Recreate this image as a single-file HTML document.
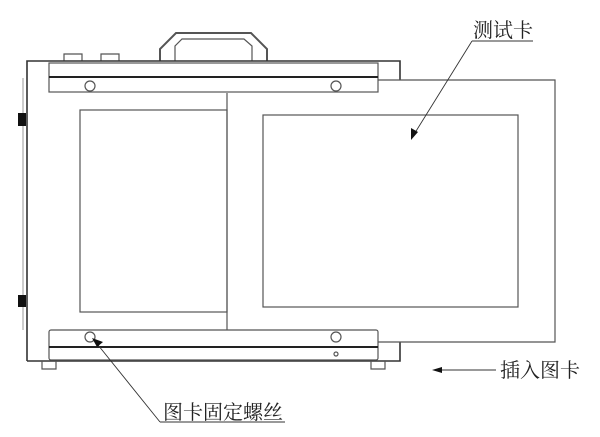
<!DOCTYPE html>
<html><head><style>body{margin:0;background:#fff}svg{display:block}</style></head><body>
<svg width="600" height="437" viewBox="0 0 600 437" xmlns="http://www.w3.org/2000/svg" font-family="'Liberation Serif','Noto Serif CJK SC',serif">
<g fill="none" stroke="#555" stroke-width="1.2">
<path d="M160 61 V49 L176 33 H251 L267 49 V61" stroke-width="2"/>
<path d="M175 61 V46 L182 39 H244 L252 46 V61"/>
<path d="M64 61 V54 H82 V61 M101 61 V54 H119 V61"/>
<path d="M27 361 V61 H400 V80" stroke="#333" stroke-width="1.6"/>
<path d="M27 361 H400 V342" stroke="#333" stroke-width="1.6"/>
<path d="M23 78 V330" stroke="#aaa"/>
<rect x="80" y="110" width="147" height="202"/>
<path d="M227 93 V330 M378 80 H555 V342 H378"/>
<rect x="263" y="115" width="255" height="192"/>
<rect x="49" y="63" width="329" height="29" fill="#fff"/>
<line x1="49" y1="77" x2="378" y2="77" stroke="#222" stroke-width="2"/>
<circle cx="90" cy="86" r="5"/><circle cx="336" cy="86" r="5"/>
<rect x="49" y="330" width="329" height="30" rx="2" fill="#fff"/>
<line x1="49" y1="347" x2="378" y2="347" stroke="#222" stroke-width="2"/>
<circle cx="90" cy="337" r="5"/><circle cx="336" cy="337" r="5"/><circle cx="336" cy="354" r="2"/>
<path d="M42 361 V369 H56 V361 M371 361 V369 H385 V361"/>
</g>
<rect x="18" y="113" width="8" height="13" fill="#111"/>
<rect x="18" y="295" width="8" height="12" fill="#111"/>
<g stroke="#333" stroke-width="0.9" fill="none">
<path d="M472 41 H533 M472 41 L413 136"/>
<path d="M160 422 H285 M160 422 L94 340"/>
<path d="M440 370 H496"/>
</g>
<path d="M411 140 L411 128 L418 132 Z" fill="#111"/>
<path d="M92 338 L103 342 L97 347 Z" fill="#111"/>
<path d="M432 370 L442 367 L442 373 Z" fill="#111"/>
<g fill="#222" font-size="20">
<text x="473" y="37">测试卡</text>
<text x="500" y="377">插入图卡</text>
<text x="163" y="419">图卡固定螺丝</text>
</g>
</svg>
</body></html>
